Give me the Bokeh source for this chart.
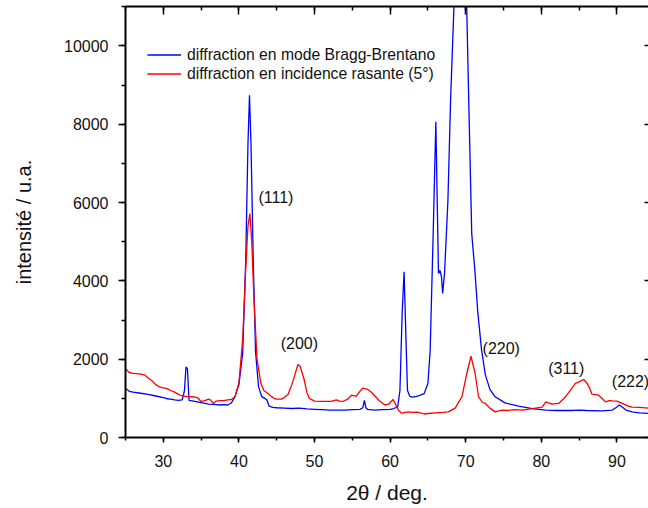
from bokeh.plotting import figure
from bokeh.models import (ColumnDataSource, Legend, LegendItem, LinearAxis,
                          SingleIntervalTicker, Range1d, CustomJSTickFormatter)
from bokeh.core.properties import value
from bokeh.embed import file_html
from bokeh.resources import INLINE

# ---- data ----
bb_two_theta = [25.0, 25.5, 26.0, 27.0, 28.0, 29.0, 30.0, 30.5, 31.0, 31.5, 32.0, 32.5,
                32.8, 33.0, 33.2, 33.4, 34.0, 35.0, 36.0, 37.0, 37.5, 38.0, 38.5, 39.0,
                39.5, 40.0, 40.5, 40.9, 41.2, 41.4, 41.6, 41.9, 42.2, 42.6, 43.0, 43.4,
                43.7, 44.0, 44.5, 45.0, 46.0, 47.0, 48.0, 49.0, 50.0, 51.0, 52.0, 53.0,
                54.0, 55.0, 56.0, 56.4, 56.6, 56.8, 57.0, 58.0, 59.0, 60.0, 60.5, 61.0,
                61.3, 61.6, 61.85, 62.1, 62.3, 62.6, 63.0, 63.5, 64.0, 64.5, 65.0, 65.3,
                65.7, 66.05, 66.4, 66.6, 66.8, 66.95, 67.2, 67.65, 68.0, 68.5, 69.3, 70.1,
                70.4, 70.8, 71.2, 71.6, 72.1, 72.6, 73.2, 73.9, 75.2, 77.0, 78.8, 80.6,
                82.0, 84.0, 85.0, 86.0, 88.0, 89.4, 90.0, 90.3, 90.7, 91.2, 92.0, 93.0, 94.2]
bb_intensity = [1250, 1180, 1160, 1130, 1100, 1060, 1020, 990, 980, 960, 950, 960,
                1200, 1800, 1750, 950, 930, 890, 850, 840, 830, 840, 830, 880,
                1050, 1350, 2150, 4500, 7500, 8740, 7500, 4500, 2200, 1300, 1050, 1000,
                960, 800, 770, 760, 750, 740, 750, 730, 720, 710, 700, 700,
                700, 710, 720, 760, 950, 760, 720, 700, 710, 720, 740, 780,
                1200, 3200, 4230, 2500, 1200, 1050, 1030, 1050, 1080, 1120, 1380, 2230,
                5210, 8060, 4190, 4270, 4100, 3680, 4190, 6060, 8615, 11300, 16000, 11300,
                8615, 5200, 4300, 3200, 2230, 1600, 1230, 1040, 885, 800, 740, 700,
                690, 690, 700, 690, 680, 700, 780, 830, 780, 700, 655, 630, 615]

gi_two_theta = [25.0, 25.5, 26.0, 26.5, 27.0, 27.5, 28.0, 28.5, 29.0, 29.5, 30.0, 30.5,
                31.0, 31.5, 32.0, 32.5, 33.0, 33.5, 34.0, 34.5, 35.0, 35.5, 36.0, 36.3,
                36.6, 37.0, 37.5, 38.0, 38.5, 39.0, 39.5, 40.0, 40.5, 40.9, 41.2, 41.45,
                41.7, 42.0, 42.4, 42.9, 43.3, 43.8, 44.3, 44.7, 45.0, 45.6, 46.0, 46.5,
                47.0, 47.4, 47.8, 48.1, 48.6, 49.0, 49.3, 50.0, 50.9, 51.5, 52.2, 52.9,
                53.3, 53.8, 54.4, 54.9, 55.5, 56.0, 56.4, 57.0, 57.5, 57.9, 58.5, 59.3,
                59.8, 60.4, 61.1, 61.5, 62.4, 63.0, 63.5, 64.0, 64.5, 65.0, 66.0, 67.0,
                67.7, 68.6, 69.5, 70.15, 70.7, 71.25, 71.7, 72.2, 72.6, 73.2, 73.9, 74.8,
                75.5, 76.5, 77.5, 78.8, 80.1, 80.6, 81.4, 82.3, 83.2, 84.0, 84.5, 85.0,
                85.6, 86.0, 86.3, 86.7, 87.6, 88.0, 88.5, 89.0, 89.4, 90.0, 90.7, 91.5,
                92.0, 93.0, 94.2]
gi_intensity = [1760, 1660, 1640, 1630, 1620, 1600, 1520, 1450, 1350, 1290, 1270, 1250,
                1200, 1160, 1100, 1060, 1050, 1040, 1040, 1020, 920, 940, 980, 950,
                870, 930, 940, 940, 960, 970, 1050, 1400, 2500, 4300, 5400, 5720,
                5000, 3500, 2000, 1390, 1200, 1130, 1050, 990, 980, 980, 1020, 1100,
                1350, 1600, 1865, 1820, 1500, 1150, 1000, 930, 920, 925, 920, 960,
                930, 925, 980, 1080, 1050, 1180, 1260, 1230, 1160, 1080, 950, 830,
                850, 970, 700, 620, 655, 640, 650, 630, 600, 613, 630, 640,
                655, 750, 1040, 1635, 2075, 1635, 1040, 900, 870, 750, 655, 700,
                690, 710, 700, 740, 775, 910, 850, 870, 1040, 1250, 1380, 1420,
                1480, 1400, 1300, 1105, 1080, 1000, 910, 940, 935, 930, 870, 800,
                775, 770, 750]

series_labels = ["diffraction en mode Bragg-Brentano",
                 "diffraction en incidence rasante (5°)"]

peak_labels = ["(111)", "(200)", "(220)", "(311)", "(222)"]
peak_label_x = [44.9, 48.0, 74.7, 83.3, 91.8]
peak_label_y = [6140, 2390, 2260, 1750, 1420]

x_ticks_interval = 10
y_ticks_interval = 2000

FONT = "Liberation Sans"

p = figure(width=648, height=508, output_backend="svg", toolbar_location=None,
           x_range=Range1d(25, 94.18), y_range=Range1d(0, 11006),
           min_border_left=125, min_border_right=0, min_border_top=6,
           min_border_bottom=71, x_axis_label="2θ / deg.",
           y_axis_label="intensité / u.a.")
p.outline_line_color = None
p.grid.visible = False
p.background_fill_color = "white"
p.border_fill_color = "white"

r_bb = p.line(bb_two_theta, bb_intensity, line_color="#0000ff", line_width=1.3)
r_gi = p.line(gi_two_theta, gi_intensity, line_color="#ff0000", line_width=1.3)

src = ColumnDataSource(dict(x=peak_label_x, y=peak_label_y, t=peak_labels))
p.text(x="x", y="y", text="t", source=src, text_font=value(FONT),
       text_font_size="16px", text_align="center", text_baseline="middle",
       text_color="#111111")

xt = SingleIntervalTicker(interval=x_ticks_interval, num_minor_ticks=2)
yt = SingleIntervalTicker(interval=y_ticks_interval, num_minor_ticks=2)

xa = p.xaxis[0]
xa.ticker = xt
xa.major_tick_in = 0
xa.major_tick_out = 5
xa.minor_tick_in = 0
xa.minor_tick_out = 3
xa.major_label_standoff = 12
xa.axis_label_standoff = 11

ya = p.yaxis[0]
ya.ticker = yt
ya.major_tick_in = 0
ya.major_tick_out = 7
ya.minor_tick_in = 0
ya.minor_tick_out = 4
ya.major_label_standoff = 10
ya.axis_label_standoff = 26

for ax in (xa, ya):
    ax.axis_line_width = 2
    ax.major_tick_line_width = 1.5
    ax.minor_tick_line_width = 1.5
    ax.major_label_text_font = FONT
    ax.major_label_text_font_size = "16px"
    ax.major_label_text_color = "#111111"
    ax.axis_label_text_font = FONT
    ax.axis_label_text_font_style = "normal"
    ax.axis_label_text_color = "#111111"
xa.axis_label_text_font_size = "21px"
ya.axis_label_text_font_size = "20px"

blank = CustomJSTickFormatter(code="return ''")
top = LinearAxis(ticker=SingleIntervalTicker(interval=x_ticks_interval, num_minor_ticks=2),
                 formatter=blank)
right = LinearAxis(ticker=SingleIntervalTicker(interval=y_ticks_interval, num_minor_ticks=2),
                   formatter=blank)
for ax in (top, right):
    ax.major_tick_out = 0
    ax.minor_tick_out = 0
    ax.major_label_standoff = 0
    ax.axis_line_width = 2
    ax.major_tick_line_width = 1.5
    ax.minor_tick_line_width = 1.5
top.major_tick_in = 8
top.minor_tick_in = 4
right.major_tick_in = 4
right.minor_tick_in = 0
right.axis_line_color = None
p.add_layout(top, "above")
p.add_layout(right, "right")

legend = Legend(items=[LegendItem(label=series_labels[0], renderers=[r_bb]),
                       LegendItem(label=series_labels[1], renderers=[r_gi])],
                location=(22, 354), padding=0, spacing=0, margin=0,
                glyph_width=34, glyph_height=19, label_height=19,
                label_standoff=6, label_text_font=FONT,
                label_text_font_size="15.7px", label_text_color="#111111",
                border_line_color=None, background_fill_alpha=0)
p.add_layout(legend)

open("out.html", "w").write(file_html(p, INLINE))
